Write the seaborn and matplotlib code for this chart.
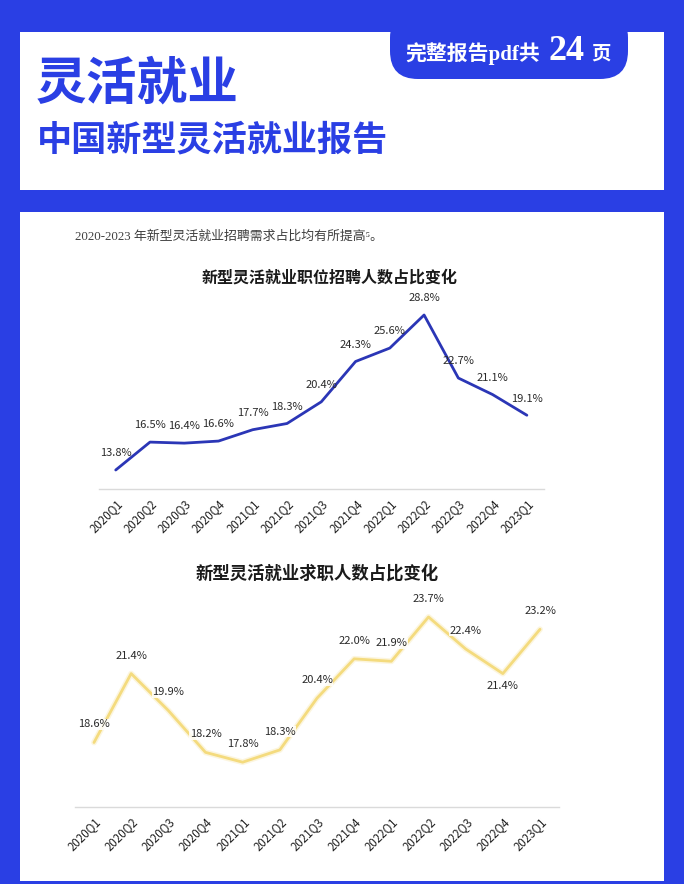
import matplotlib
matplotlib.use("Agg")
import matplotlib.pyplot as plt
from matplotlib.patches import FancyBboxPatch, Rectangle
import seaborn as sns
import pandas as pd
import numpy as np

# ---------------- data ----------------
quarters = ["2020Q1", "2020Q2", "2020Q3", "2020Q4", "2021Q1", "2021Q2", "2021Q3",
            "2021Q4", "2022Q1", "2022Q2", "2022Q3", "2022Q4", "2023Q1"]
recruit_share = [13.8, 16.5, 16.4, 16.6, 17.7, 18.3, 20.4, 24.3, 25.6, 28.8, 22.7, 21.1, 19.1]
seeker_share = [18.6, 21.4, 19.9, 18.2, 17.8, 18.3, 20.4, 22.0, 21.9, 23.7, 22.4, 21.4, 23.2]
# label placement: 1 = above point, -1 = below point
seeker_label_side = [1, 1, 1, 1, 1, 1, 1, 1, 1, 1, 1, -1, 1]

title_main = "灵活就业"
title_sub = "中国新型灵活就业报告"
pill_text = "完整报告pdf共"
pill_num = "24"
pill_unit = "页"
intro_text = "2020-2023 年新型灵活就业招聘需求占比均有所提高⁵。"
chart1_title = "新型灵活就业职位招聘人数占比变化"
chart2_title = "新型灵活就业求职人数占比变化"

BLUE_BG = "#2A3FE4"
LINE_BLUE = "#2B36B6"
LINE_YELLOW = "#F4DB7E"

sns.set_theme(style="white")
plt.rcParams['font.family'] = ['Noto Sans CJK SC', 'DejaVu Sans']

W, H = 684, 884
fig = plt.figure(figsize=(W / 100, H / 100), dpi=100)
fig.patch.set_facecolor(BLUE_BG)

# background layer in pixel coordinates
bg = fig.add_axes([0, 0, 1, 1])
bg.set_xlim(0, W)
bg.set_ylim(H, 0)
bg.axis("off")
bg.set_facecolor(BLUE_BG)

# header white box
bg.add_patch(Rectangle((20, 32), 644, 158, facecolor="white", edgecolor="none"))
# body white box
bg.add_patch(Rectangle((20, 212), 644, 669, facecolor="white", edgecolor="none"))
# pill
bg.add_patch(FancyBboxPatch((390, 10), 238, 69, boxstyle="round,pad=0,rounding_size=28",
                            facecolor=BLUE_BG, edgecolor="none"))

serif_fam = ['Liberation Serif', 'Noto Sans CJK SC']
bg.text(405, 54, pill_text, color="white", fontsize=15, fontweight="bold",
        family=serif_fam, va="center", ha="left")
bg.text(566, 51, pill_num, color="white", fontsize=26, fontweight="bold",
        family=['Liberation Serif'], va="center", ha="center")
bg.text(591, 55, pill_unit, color="white", fontsize=14, fontweight="bold",
        family=serif_fam, va="center", ha="left")

bg.text(36, 84, title_main, color=BLUE_BG, fontsize=36.5, fontweight="heavy",
        va="center", ha="left")
bg.text(37, 140, title_sub, color=BLUE_BG, fontsize=25.3, fontweight="heavy",
        va="center", ha="left")

bg.text(75, 237, intro_text, color="#3f3f3f", fontsize=9.3,
        family=serif_fam, va="center", ha="left")

bg.text(330, 278, chart1_title, color="#1a1a1a", fontsize=11.5, fontweight="bold",
        va="center", ha="center")
bg.text(317, 574, chart2_title, color="#1a1a1a", fontsize=12.5, fontweight="bold",
        va="center", ha="center")


def make_chart(rect, values, color, lw, ylim, label_offsets, glow=False):
    ax = fig.add_axes(rect)
    df = pd.DataFrame({"q": quarters, "v": values, "i": np.arange(len(quarters))})
    if glow:
        sns.lineplot(data=df, x="i", y="v", ax=ax, color=color, linewidth=lw + 2.2,
                     alpha=0.25, sort=False)
    sns.lineplot(data=df, x="i", y="v", ax=ax, color=color, linewidth=lw, sort=False)
    ax.set_xlim(-0.5, len(quarters) - 0.5)
    ax.set_ylim(*ylim)
    ax.set_facecolor("none")
    for s in ["top", "left", "right"]:
        ax.spines[s].set_visible(False)
    ax.spines["bottom"].set_color("#DADADA")
    ax.spines["bottom"].set_linewidth(1.0)
    ax.set_yticks([])
    ax.set_xticks(np.arange(len(quarters)))
    ax.set_xticklabels(quarters, rotation=45, ha="right", rotation_mode="anchor",
                       fontsize=8.3, color="#222222")
    ax.tick_params(axis="x", length=0, pad=6)
    ax.set_xlabel("")
    ax.set_ylabel("")
    for i, v in enumerate(values):
        off = label_offsets[i]
        ax.annotate(f"{v:.1f}%", (i, v), xytext=(0, off), textcoords="offset points",
                    ha="center", va="center", fontsize=8, color="#2a2a2a",
                    bbox=dict(boxstyle="square,pad=0.05", facecolor="white",
                              edgecolor="none", alpha=0.85) if glow else None)
    return ax


# chart 1
ax1 = make_chart([98.6 / W, 1 - 488.6 / H, (544 - 98.6) / W, (488.6 - 302.6) / H],
                 recruit_share, LINE_BLUE, 2.0, (12, 30),
                 [12] * len(quarters))
# chart 2
offs2 = [13 if s > 0 else -9 for s in seeker_label_side]
ax2 = make_chart([75.4 / W, 1 - 806.5 / H, (558.6 - 75.4) / W, (806.5 - 609.6) / H],
                 seeker_share, LINE_YELLOW, 2.0, (16, 24), offs2, glow=True)

fig.savefig("out.png", dpi=100, facecolor=fig.get_facecolor())
